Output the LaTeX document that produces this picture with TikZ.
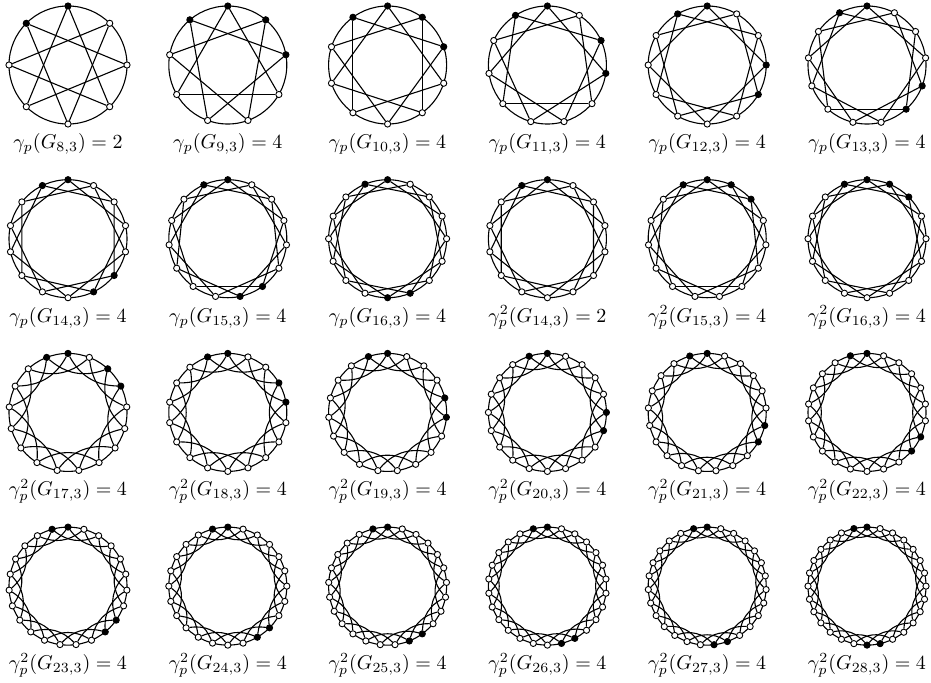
\documentclass[tikz,border=0pt]{standalone}
\usetikzlibrary{backgrounds}
\begin{document}
\begin{tikzpicture}[x=0.5pt,y=-0.5pt,
  vtx/.style={circle,draw,line width=0.45pt,inner sep=0pt,minimum size=3.1pt},
  edge/.style={line width=0.55pt},
  lab/.style={inner sep=0pt}]
\useasboundingbox (0,0) rectangle (931,682);
\foreach \idx/\col/\row/\nn/\bl/\sq/\val in {
 1/0/0/8/{7,0}/0/2, 2/1/0/9/{8,0,1,2}/0/4, 3/2/0/10/{9,0,1,2}/0/4,
 4/3/0/11/{10,0,2,3}/0/4, 5/4/0/12/{11,0,3,4}/0/4, 6/5/0/13/{12,0,4,5}/0/4,
 7/0/1/14/{13,0,5,6}/0/4, 8/1/1/15/{14,0,6,7}/0/4, 9/2/1/16/{15,0,7,8}/0/4,
 10/3/1/14/{13,0}/1/2, 11/4/1/15/{14,0,1,2}/1/4, 12/5/1/16/{15,0,1,2}/1/4,
 13/0/2/17/{16,0,2,3}/1/4, 14/1/2/18/{17,0,3,4}/1/4, 15/2/2/19/{18,0,4,5}/1/4,
 16/3/2/20/{19,0,5,6}/1/4, 17/4/2/21/{20,0,6,7}/1/4, 18/5/2/22/{21,0,7,8}/1/4,
 19/0/3/23/{22,0,8,9}/1/4, 20/1/3/24/{23,0,9,10}/1/4, 21/2/3/25/{24,0,10,11}/1/4,
 22/3/3/26/{25,0,11,12}/1/4, 23/4/3/27/{26,0,12,13}/1/4, 24/5/3/28/{27,0,13,14}/1/4}{
  \pgfmathsetmacro\cx{68+159.8*\col}
  \pgfmathsetmacro\cy{65+173.7*\row}
  \pgfmathtruncatemacro\nm{\nn-1}
  \coordinate (c\idx) at (\cx,\cy);
  \foreach \k in {0,...,\nm}{
    \gdef\fc{white}
    \foreach \b in \bl {\ifnum\b=\k\relax\gdef\fc{black}\fi}
    \pgfmathsetmacro\vx{\cx+59*cos(90-360*\k/\nn)}
    \pgfmathsetmacro\vy{\cy-59*sin(90-360*\k/\nn)}
    \node[vtx,fill=\fc] (g\idx-\k) at (\vx,\vy) {};
  }
  \begin{scope}[on background layer]
    \draw[edge] (c\idx) circle[radius=59];
    \foreach \k in {0,...,\nm}{
      \pgfmathtruncatemacro\kk{mod(\k+3,\nn)}
      \ifnum\idx>12
        \draw[edge] (g\idx-\k) to[bend right=30] (g\idx-\kk);
      \else
        \draw[edge] (g\idx-\k) -- (g\idx-\kk);
      \fi
    }
  \end{scope}
  \node[lab] (lab\idx) at (\cx,\cy+79) {\ifnum\sq=1 $\gamma_p^2(G_{\nn,3}) = \val$\else $\gamma_p(G_{\nn,3}) = \val$\fi};
}
\end{tikzpicture}
\end{document}
